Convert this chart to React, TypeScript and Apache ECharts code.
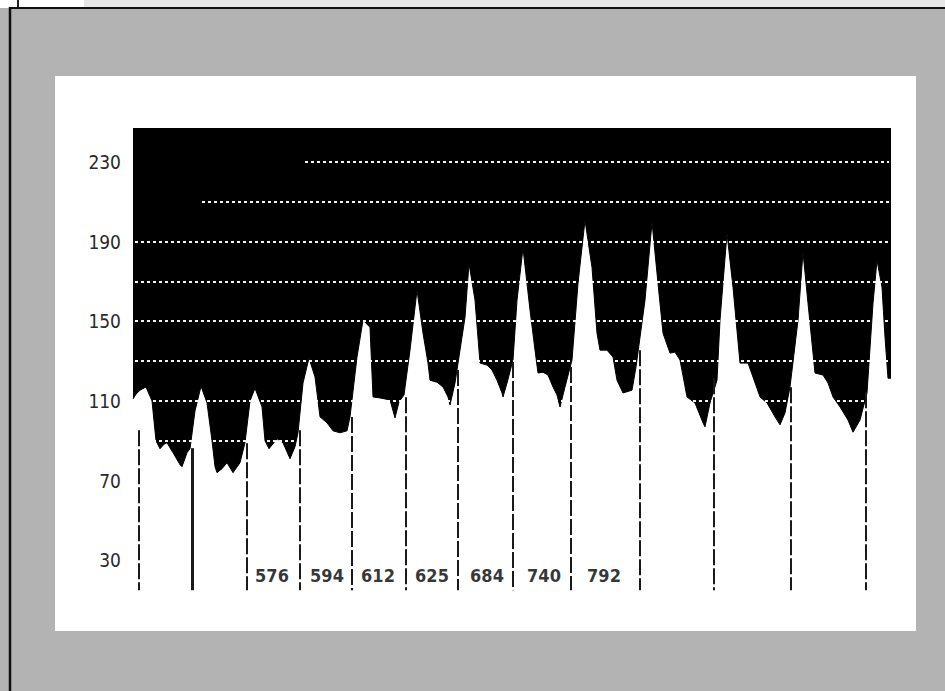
import React, { useEffect, useRef } from "react";
import * as echarts from "echarts";

// time (ms) along the recording
const waveT = [
  0, 30, 70, 130, 190, 230, 270, 310, 340, 400, 470, 490, 540, 570, 620, 680, 740, 790, 820, 840,
  890, 940, 1000, 1070, 1120, 1170, 1220, 1290, 1320, 1360, 1440, 1500, 1570, 1620, 1650, 1700,
  1760, 1820, 1870, 1940, 2000, 2070, 2140, 2170, 2240, 2300, 2370, 2400, 2470, 2570, 2620, 2660,
  2710, 2770, 2840, 2900, 2950, 2970, 3040, 3100, 3150, 3170, 3220, 3320, 3360, 3420, 3470, 3540,
  3590, 3640, 3690, 3700, 3740, 3800, 3840, 3900, 3970, 4020, 4050, 4100, 4150, 4200, 4240, 4270,
  4320, 4390, 4450, 4520, 4590, 4640, 4670, 4740, 4800, 4840, 4900, 4990, 5030, 5120, 5190, 5250,
  5300, 5370, 5420, 5470, 5540, 5620, 5700, 5720, 5770, 5840, 5870, 5940, 6000, 6070, 6150, 6200,
  6270, 6340, 6420, 6470, 6520, 6570, 6650, 6700, 6750, 6820, 6900, 6950, 7000, 7070, 7150, 7200,
  7270, 7340, 7400, 7440, 7490, 7520, 7550, 7580,
];
// arterial pressure (mmHg)
const waveP = [
  111, 113.4, 115.4, 117, 110, 90, 86, 88.3, 89, 84, 78, 77, 84, 86, 105, 117.4, 109, 90, 77, 74,
  76, 79, 74, 79, 89, 110, 116.4, 107, 90, 86, 91, 89, 81, 87, 94, 119,
  131.5, 122, 102, 99, 95, 94, 95, 102, 132, 150.5, 147, 112, 111.5, 110.5, 101.5, 109.5,
  113, 135.5, 165.6, 144, 129, 120.4, 119.4, 117, 112, 108, 119, 152, 179, 160.6, 129, 128,
  125.5, 120.4, 114, 112, 119, 130.5, 160.6, 186.7, 155.6, 135.5, 124, 124.4, 123, 117, 113, 107,
  117, 130.5, 169, 200.7, 177, 144, 135.5, 135.5, 132, 120.4, 114, 115.4, 127, 160.6, 199.7, 169,
  144, 134, 134.5, 130.5, 112, 109, 99, 97, 109, 120.4, 150.5, 194, 167, 129, 129, 122,
  112, 109, 102, 98, 104, 117, 150.5, 184.7, 159, 124, 123, 119, 112, 107, 100.4, 94.3,
  100.4, 114, 159, 180.6, 167, 142, 121.4, 121.4,
];

// dotted reference levels and where each starts (ms)
const gridLevels = [90, 110, 130, 150, 170, 190, 210, 230];
const gridStartT = [20, 20, 20, 20, 20, 20, 690, 1720];
const gridEndT = 7560;

// beat markers (ms) and the pressure at which each marker starts
const markerT = [60, 590, 1140, 1670, 2190, 2730, 3250, 3800, 4380, 5070, 5810, 6580, 7330];
const markerTop = [95.3, 86.3, 88.8, 95.3, 101.9, 111.9, 125.5, 129.5, 127, 135.5, 121.4, 116.9, 114.4];
const markerBottom = 15;

// interval labels
const intervalLabels = ["576", "594", "612", "625", "684", "740", "792"];
const intervalLabelT = [1390, 1940, 2450, 2990, 3540, 4110, 4710];
const intervalLabelP = 22.6;

const yTickLabels = [30, 70, 110, 150, 190, 230];

const condensed = "'DejaVu Sans Condensed', 'Liberation Sans Narrow', 'DejaVu Sans', sans-serif";

export default function App() {
  const ref = useRef<HTMLDivElement>(null);
  useEffect(() => {
    if (!ref.current) return;
    const chart = echarts.init(ref.current, null, { renderer: "svg" });
    const wave = waveT.map((t, i) => [t, waveP[i]]);
    const gridLines = gridLevels.map((lv, i) => [
      { coord: [gridStartT[i], lv] },
      { coord: [gridEndT, lv] },
    ]);
    const markers = markerT.map((t, i) => [
      {
        coord: [t, markerTop[i]],
        lineStyle: i === 1 ? { width: 3, type: "solid" } : undefined,
      },
      { coord: [t, markerBottom] },
    ]);
    chart.setOption({
      animation: false,
      backgroundColor: "#b3b3b3",
      graphic: [
        { type: "rect", z: -10, shape: { x: 0, y: 0, width: 945, height: 8 }, style: { fill: "#e6e6e6" } },
        { type: "rect", z: -9, shape: { x: 0, y: 0, width: 84, height: 8 }, style: { fill: "#ffffff" } },
        { type: "line", z: -8, shape: { x1: 10, y1: 8, x2: 945, y2: 8 }, style: { stroke: "#111", lineWidth: 2 } },
        { type: "line", z: -8, shape: { x1: 10, y1: 7, x2: 10, y2: 691 }, style: { stroke: "#111", lineWidth: 2.5 } },
        { type: "line", z: -8, shape: { x1: 18, y1: 0, x2: 18, y2: 7 }, style: { stroke: "#222", lineWidth: 2 } },
        { type: "rect", z: -7, shape: { x: 55, y: 76, width: 861, height: 555 }, style: { fill: "#ffffff" } },
      ],
      grid: { left: 133, right: 54, top: 128, bottom: 51, containLabel: false },
      xAxis: {
        type: "value",
        min: 0,
        max: 7580,
        show: false,
        splitLine: { show: false },
      },
      yAxis: {
        type: "value",
        min: -10,
        max: 247,
        interval: 40,
        axisLine: { show: false },
        axisTick: { show: false },
        splitLine: { show: false },
        axisLabel: {
          margin: 12,
          color: "#2a2a2a",
          fontFamily: condensed,
          fontSize: 19,
          padding: [8, 0, 0, 0],
          formatter: (v: number) => (yTickLabels.includes(v) ? String(v) : ""),
        },
      },
      series: [
        {
          type: "line",
          data: wave,
          symbol: "none",
          z: 2,
          silent: true,
          lineStyle: { color: "#000", width: 1 },
          areaStyle: { color: "#000", opacity: 1, origin: "end" },
          markLine: {
            z: 5,
            silent: true,
            symbol: ["none", "none"],
            label: { show: false },
            lineStyle: { color: "#ffffff", width: 2, type: [3, 3], opacity: 0.95 },
            emphasis: { disabled: true },
            data: gridLines,
          },
        },
        {
          type: "scatter",
          data: intervalLabelT.map((t, i) => ({ value: [t, intervalLabelP], name: intervalLabels[i] })),
          symbolSize: 0,
          z: 7,
          silent: true,
          itemStyle: { color: "#000" },
          label: {
            show: true,
            position: "inside",
            formatter: (p: any) => p.name,
            color: "#000",
            textBorderWidth: 0,
            fontFamily: condensed,
            fontWeight: "bold",
            fontSize: 18,
          },
          markLine: {
            z: 6,
            silent: true,
            symbol: ["none", "none"],
            label: { show: false },
            lineStyle: { color: "#1a1a1a", width: 2, type: [16, 3] },
            emphasis: { disabled: true },
            data: markers,
          },
        },
      ],
    });
    return () => chart.dispose();
  }, []);
  return (
    <div
      ref={ref}
      style={{ position: "fixed", left: 0, top: 0, width: 945, height: 691 }}
    />
  );
}
